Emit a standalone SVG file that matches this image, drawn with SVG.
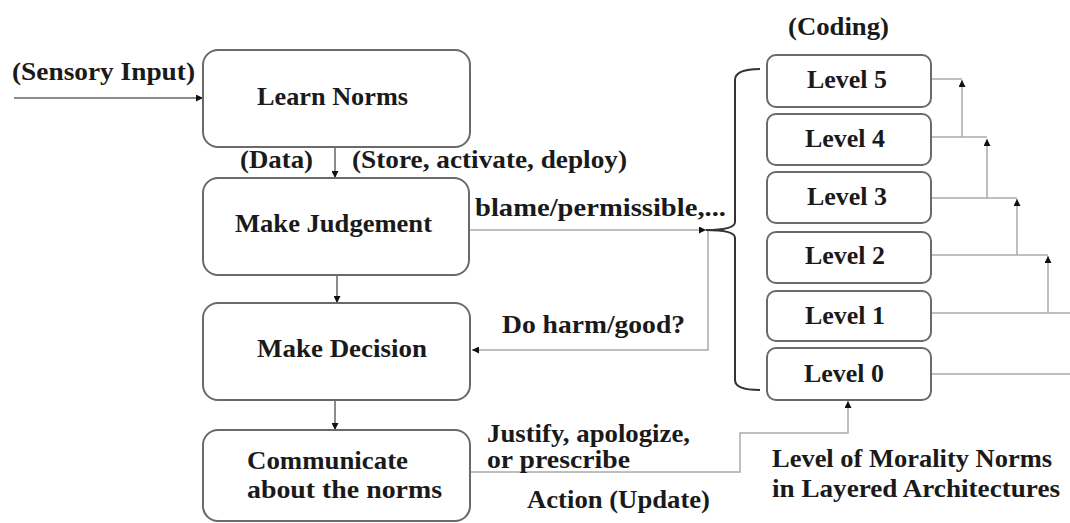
<svg xmlns="http://www.w3.org/2000/svg" width="1070" height="523" viewBox="0 0 1070 523">
<style>
text{font-family:"Liberation Serif","Times New Roman",serif;font-weight:bold;fill:#1a1a1a;font-size:25px}
.box{fill:#fff;stroke:#6a6a6a;stroke-width:2}
.lvl{fill:#fff;stroke:#6a6a6a;stroke-width:2}
.ln{fill:none;stroke:#aaa;stroke-width:1.5}
.dk{fill:none;stroke:#666;stroke-width:1.5}
.brace{fill:none;stroke:#333;stroke-width:2}
</style>
<defs>
<marker id="ah" viewBox="0 0 10 10" refX="10" refY="5" markerWidth="7" markerHeight="7" markerUnits="userSpaceOnUse" orient="auto">
<path d="M0,0 L10,5 L0,10 Z" fill="#111"/>
</marker>
</defs>
<rect width="1070" height="523" fill="#fff"/>

<g id="connectors">
<line class="dk" x1="14" y1="98" x2="203" y2="98" marker-end="url(#ah)"/>
<line class="dk" x1="335" y1="147" x2="335" y2="178" marker-end="url(#ah)"/>
<line class="dk" x1="337" y1="275" x2="337" y2="303" marker-end="url(#ah)"/>
<line class="dk" x1="335" y1="400" x2="335" y2="430" marker-end="url(#ah)"/>
<line class="ln" x1="469" y1="230" x2="706" y2="230" marker-end="url(#ah)"/>
<polyline class="ln" points="708,231 708,350 472,350" marker-end="url(#ah)"/>
<polyline class="ln" points="471,472 740,472 740,433 848,433 848,401" marker-end="url(#ah)"/>
<line class="ln" x1="931" y1="79" x2="962" y2="79"/>
<line class="ln" x1="931" y1="137" x2="987" y2="137"/>
<line class="ln" x1="962" y1="137" x2="962" y2="80" marker-end="url(#ah)"/>
<line class="ln" x1="931" y1="198" x2="1017" y2="198"/>
<line class="ln" x1="987" y1="198" x2="987" y2="139" marker-end="url(#ah)"/>
<line class="ln" x1="931" y1="255" x2="1048" y2="255"/>
<line class="ln" x1="1017" y1="255" x2="1017" y2="199" marker-end="url(#ah)"/>
<line class="ln" x1="931" y1="313" x2="1070" y2="313"/>
<line class="ln" x1="1048" y1="313" x2="1048" y2="256" marker-end="url(#ah)"/>
<line class="ln" x1="931" y1="374" x2="1070" y2="374"/>
<path class="brace" d="M760,69 Q735,69 735,80 L735,222 Q735,230 706,230 Q735,230 735,238 L735,380 Q735,390 760,390"/>
</g>

<g id="labels">
<text x="12" y="80" textLength="183" lengthAdjust="spacingAndGlyphs">(Sensory Input)</text>
<text x="240" y="168" textLength="73" lengthAdjust="spacingAndGlyphs">(Data)</text>
<text x="352" y="168" textLength="275" lengthAdjust="spacingAndGlyphs">(Store, activate, deploy)</text>
<text x="475" y="216" textLength="251" lengthAdjust="spacingAndGlyphs">blame/permissible,...</text>
<text x="502" y="333" textLength="183" lengthAdjust="spacingAndGlyphs">Do harm/good?</text>
<text x="487" y="442" textLength="203" lengthAdjust="spacingAndGlyphs">Justify, apologize,</text>
<text x="487" y="468" textLength="143" lengthAdjust="spacingAndGlyphs">or prescribe</text>
<text x="527" y="508" textLength="183" lengthAdjust="spacingAndGlyphs">Action (Update)</text>
<text x="788" y="35" textLength="101" lengthAdjust="spacingAndGlyphs">(Coding)</text>
<text x="772" y="467" textLength="280" lengthAdjust="spacingAndGlyphs">Level of Morality Norms</text>
<text x="772" y="497" textLength="288" lengthAdjust="spacingAndGlyphs">in Layered Architectures</text>
</g>

<g id="learn">
<rect class="box" x="203" y="50" width="267" height="97" rx="15"/>
<text x="257" y="105" textLength="151" lengthAdjust="spacingAndGlyphs">Learn Norms</text>
</g>
<g id="judgement">
<rect class="box" x="203" y="178" width="266" height="97" rx="15"/>
<text x="235" y="232" textLength="197" lengthAdjust="spacingAndGlyphs">Make Judgement</text>
</g>
<g id="decision">
<rect class="box" x="203" y="303" width="267" height="97" rx="15"/>
<text x="257" y="357" textLength="170" lengthAdjust="spacingAndGlyphs">Make Decision</text>
</g>
<g id="communicate">
<rect class="box" x="203" y="430" width="267" height="91" rx="15"/>
<text x="247" y="469" textLength="161" lengthAdjust="spacingAndGlyphs">Communicate</text>
<text x="247" y="498" textLength="195" lengthAdjust="spacingAndGlyphs">about the norms</text>
</g>

<g id="level5">
<rect class="lvl" x="767" y="55" width="164" height="52" rx="9"/>
<text x="807" y="88" textLength="80" lengthAdjust="spacingAndGlyphs">Level 5</text>
</g>
<g id="level4">
<rect class="lvl" x="767" y="114" width="164" height="51" rx="9"/>
<text x="805" y="147" textLength="80" lengthAdjust="spacingAndGlyphs">Level 4</text>
</g>
<g id="level3">
<rect class="lvl" x="767" y="172" width="164" height="51" rx="9"/>
<text x="807" y="205" textLength="80" lengthAdjust="spacingAndGlyphs">Level 3</text>
</g>
<g id="level2">
<rect class="lvl" x="767" y="232" width="164" height="51" rx="9"/>
<text x="805" y="264" textLength="80" lengthAdjust="spacingAndGlyphs">Level 2</text>
</g>
<g id="level1">
<rect class="lvl" x="767" y="291" width="164" height="50" rx="9"/>
<text x="805" y="324" textLength="80" lengthAdjust="spacingAndGlyphs">Level 1</text>
</g>
<g id="level0">
<rect class="lvl" x="767" y="348" width="164" height="52" rx="9"/>
<text x="804" y="382" textLength="80" lengthAdjust="spacingAndGlyphs">Level 0</text>
</g>
</svg>
